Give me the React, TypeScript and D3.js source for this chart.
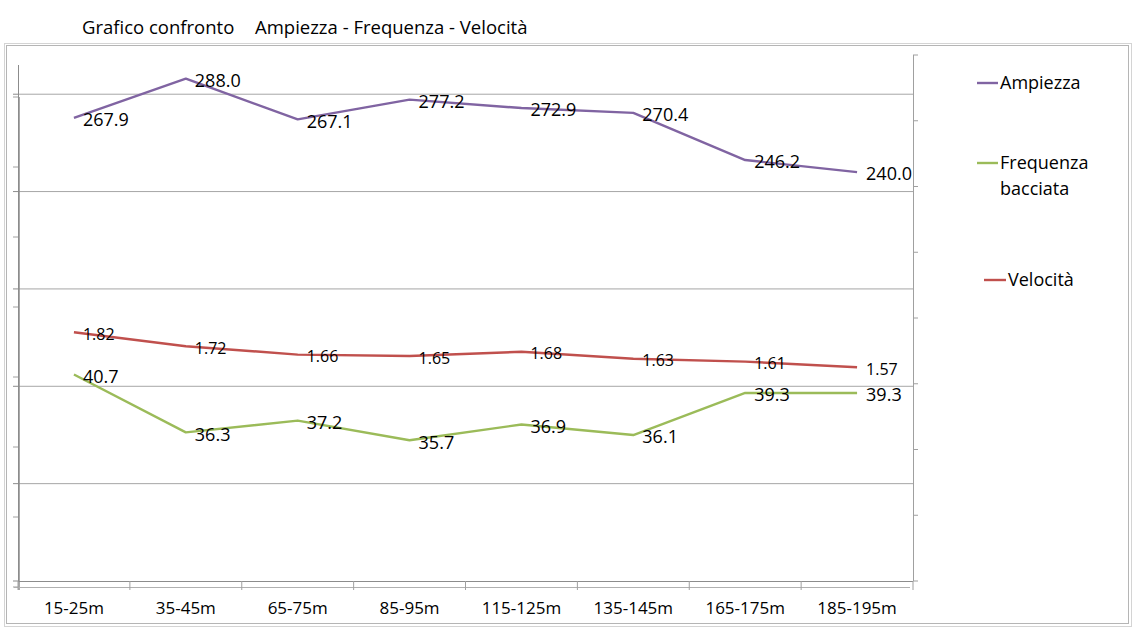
import React from 'react';
import * as d3 from 'd3';

const categories = ['15-25m', '35-45m', '65-75m', '85-95m', '115-125m', '135-145m', '165-175m', '185-195m'];
const ampiezza = [267.9, 288.0, 267.1, 277.2, 272.9, 270.4, 246.2, 240.0];
const frequenza = [40.7, 36.3, 37.2, 35.7, 36.9, 36.1, 39.3, 39.3];
const velocita = [1.82, 1.72, 1.66, 1.65, 1.68, 1.63, 1.61, 1.57];

const ampTicks = [30, 80, 130, 180, 230, 280];
const velTicks = [0, 0.5, 1, 1.5, 2, 2.5, 3, 3.5];
const freqTicks = [25, 30, 35, 40, 45, 50, 55, 60, 65];

const W = 1146;
const H = 638;
const FONT = '"Open Sans", Lato, sans-serif';

const COL_AMP = '#8064a2';
const COL_FREQ = '#9bbb59';
const COL_VEL = '#c0504d';

const plotLeft = 18;
const plotRight = 913;

export default function App() {
  const x = d3.scaleBand<string>().domain(categories).range([plotLeft, plotRight]);
  const cx = (c: string) => (x(c) || 0) + x.bandwidth() / 2;

  // three value axes laid over each other, as in the spreadsheet
  const yAmp = d3.scaleLinear().domain([30, 295]).range([581, 65]);
  const yVel = d3.scaleLinear().domain([0, 3.5]).range([587, 97]);
  const yFreq = d3.scaleLinear().domain([25, 65]).range([581, 55]);

  const series = [
    { name: 'Ampiezza', values: ampiezza, y: yAmp, color: COL_AMP, size: 18, fmt: (v: number) => v.toFixed(1) },
    { name: 'Velocità', values: velocita, y: yVel, color: COL_VEL, size: 16, fmt: (v: number) => v.toFixed(2) },
    { name: 'Frequenza bacciata', values: frequenza, y: yFreq, color: COL_FREQ, size: 18, fmt: (v: number) => v.toFixed(1) },
  ];

  const boundaries = categories.map((c) => x(c) || 0).concat([plotRight]);

  return (
    <svg
      width={W}
      height={H}
      style={{ position: 'absolute', left: 0, top: 0, display: 'block', background: '#fff' }}
      fontFamily={FONT}
    >
      {/* title */}
      <text x={82} y={34} fontSize={18.5} fill="#000">
        Grafico confronto
      </text>
      <text x={255} y={34} fontSize={18.5} fill="#000">
        Ampiezza - Frequenza - Velocità
      </text>

      {/* chart frame */}
      <rect x={4.5} y={43.5} width={1127} height={583} fill="none" stroke="#d4d4d4" strokeWidth={1} />
      <rect x={6.5} y={45.5} width={1122} height={578} fill="none" stroke="#b5b5b5" strokeWidth={1} />

      {/* gridlines */}
      {ampTicks.slice(1).map((t) => (
        <line key={t} x1={plotLeft} x2={plotRight} y1={yAmp(t)} y2={yAmp(t)} stroke="#a6a6a6" strokeWidth={1} />
      ))}

      {/* left axes */}
      <line x1={18.5} x2={18.5} y1={yAmp.range()[1]} y2={yAmp.range()[0]} stroke="#8c8c8c" />
      <line x1={19} x2={19} y1={yVel.range()[1]} y2={yVel.range()[0] + 3} stroke="#8c8c8c" strokeWidth={1.5} />
      {ampTicks.map((t) => (
        <line key={'a' + t} x1={13} x2={18} y1={yAmp(t)} y2={yAmp(t)} stroke="#8c8c8c" />
      ))}
      {velTicks.map((t) => (
        <line key={'v' + t} x1={13} x2={18} y1={yVel(t)} y2={yVel(t)} stroke="#a0a0a0" />
      ))}

      {/* right axis */}
      <line x1={913.5} x2={913.5} y1={yFreq.range()[1]} y2={yFreq.range()[0]} stroke="#a0a0a0" />
      {freqTicks.map((t) => (
        <line key={'f' + t} x1={913} x2={918} y1={yFreq(t)} y2={yFreq(t)} stroke="#a0a0a0" />
      ))}

      {/* category axes */}
      <line x1={plotLeft} x2={plotRight} y1={581.5} y2={581.5} stroke="#8c8c8c" />
      <line x1={plotLeft - 4} x2={plotRight - 3} y1={587.5} y2={587.5} stroke="#b0b0b0" />
      {boundaries.map((b, i) => (
        <line key={'b' + i} x1={b} x2={b} y1={581} y2={590} stroke="#a0a0a0" />
      ))}
      {categories.map((c) => (
        <text key={c} x={cx(c)} y={614} fontSize={17} textAnchor="middle" fill="#000">
          {c}
        </text>
      ))}

      {/* series lines */}
      {series.map((s) => {
        const line = d3
          .line<number>()
          .x((_, i) => cx(categories[i]))
          .y((v) => s.y(v));
        return (
          <path key={s.name} d={line(s.values) || ''} fill="none" stroke={s.color} strokeWidth={2.4} strokeLinejoin="round" />
        );
      })}

      {/* data labels */}
      {series.map((s) =>
        s.values.map((v, i) => (
          <text
            key={s.name + i}
            x={cx(categories[i]) + 9}
            y={s.y(v) + 2}
            dy="0.35em"
            fontSize={s.size}
            fill="#000"
          >
            {s.fmt(v)}
          </text>
        ))
      )}

      {/* legend */}
      <line x1={977} x2={998} y1={83} y2={83} stroke={COL_AMP} strokeWidth={2.4} />
      <text x={1000} y={83} dy="0.35em" fontSize={18} fill="#000">
        Ampiezza
      </text>
      <line x1={977} x2={998} y1={163} y2={163} stroke={COL_FREQ} strokeWidth={2.4} />
      <text x={1000} y={163} dy="0.35em" fontSize={18} fill="#000">
        Frequenza
      </text>
      <text x={1000} y={189} dy="0.35em" fontSize={18} fill="#000">
        bacciata
      </text>
      <line x1={984} x2={1006} y1={280} y2={280} stroke={COL_VEL} strokeWidth={2.4} />
      <text x={1008} y={280} dy="0.35em" fontSize={18} fill="#000">
        Velocità
      </text>
    </svg>
  );
}
